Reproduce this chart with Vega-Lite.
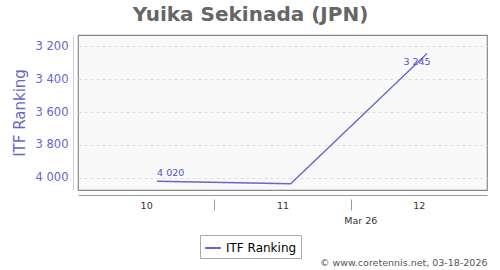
{
  "$schema": "https://vega.github.io/schema/vega-lite/v6.json",
  "width": 409,
  "height": 155,
  "autosize": "none",
  "padding": {"left": 78, "top": 35, "right": 13, "bottom": 80},
  "config": {
    "font": "DejaVu Sans",
    "locale": {"number": {"decimal": ".", "thousands": " ", "grouping": [3], "currency": ["", ""]}},
    "view": {"fill": "#f9f9f9", "stroke": "#888888", "strokeWidth": 1.2}
  },
  "title": {"text": "Yuika Sekinada (JPN)", "fontSize": 20, "fontWeight": "bold", "color": "#666666", "anchor": "middle", "dx": -32, "offset": 10},
  "data": {"values": [
    {"week": 10.08, "rank": 4020},
    {"week": 11.06, "rank": 4035},
    {"week": 12.06, "rank": 3245}
  ]},
  "encoding": {
    "y": {"field": "rank", "type": "quantitative",
      "scale": {"domain": [3133, 4073], "reverse": true, "nice": false, "zero": false},
      "axis": {"values": [3200, 3400, 3600, 3800, 4000], "format": ",d", "offset": 5, "ticks": false, "labelOverlap": false, "domainColor": "#ccccee", "labelColor": "#6666cc", "labelFontSize": 11.5, "labelPadding": 5, "title": "ITF Ranking", "titleColor": "#6666cc", "titleFontSize": 15, "titleFontWeight": "normal", "titlePadding": 8, "gridColor": "#dddddd", "gridDash": [3, 3]}}
  },
  "layer": [
    {
      "mark": {"type": "line", "strokeWidth": 1.3},
      "encoding": {
        "x": {"field": "week", "type": "quantitative",
          "scale": {"domain": [9.5, 12.5], "nice": false, "zero": false},
          "axis": {"orient": "bottom", "values": [10, 11, 12], "format": "d", "offset": 5, "ticks": false, "grid": false, "domainColor": "#999999", "labelColor": "#333333", "labelFontSize": 9.5, "labelPadding": 5, "title": null}},
        "color": {"datum": "ITF Ranking", "type": "nominal", "scale": {"range": ["#6666cc"]},
          "legend": {"orient": "none", "legendX": 122, "legendY": 200, "title": null, "strokeColor": "#aaaaaa", "padding": 4, "symbolType": "stroke", "symbolSize": 250, "symbolStrokeWidth": 2, "labelFontSize": 12, "labelColor": "#000000"}}
      }
    },
    {
      "transform": [{"filter": "datum.week < 10.5"}],
      "mark": {"type": "text", "align": "left", "baseline": "middle", "dy": -8, "fontSize": 9.5, "color": "#5555bb"},
      "encoding": {
        "x": {"field": "week", "type": "quantitative",
          "axis": {"orient": "bottom", "values": [10.5, 11.5], "labels": false, "domain": false, "ticks": true, "tickSize": 11, "tickColor": "#999999", "offset": 9, "grid": false, "title": null}},
        "text": {"field": "rank", "type": "quantitative", "format": ",d"}
      }
    },
    {
      "transform": [{"filter": "datum.week > 12"}],
      "mark": {"type": "text", "align": "center", "baseline": "middle", "dx": -10, "dy": 9, "fontSize": 9.5, "color": "#5555bb"},
      "encoding": {
        "x": {"field": "week", "type": "quantitative",
          "axis": {"orient": "bottom", "values": [11.57], "labelExpr": "'Mar 26'", "labels": true, "domain": false, "ticks": false, "offset": 5, "labelPadding": 20, "labelFontSize": 9.5, "labelColor": "#333333", "grid": false,
            "title": "© www.coretennis.net, 03-18-2026", "titleAnchor": "end", "titleAlign": "right", "titleFontSize": 9.5, "titleFontWeight": "normal", "titleColor": "#555555", "titlePadding": 33}},
        "text": {"field": "rank", "type": "quantitative", "format": ",d"}
      }
    }
  ],
  "resolve": {"axis": {"x": "independent"}}
}
